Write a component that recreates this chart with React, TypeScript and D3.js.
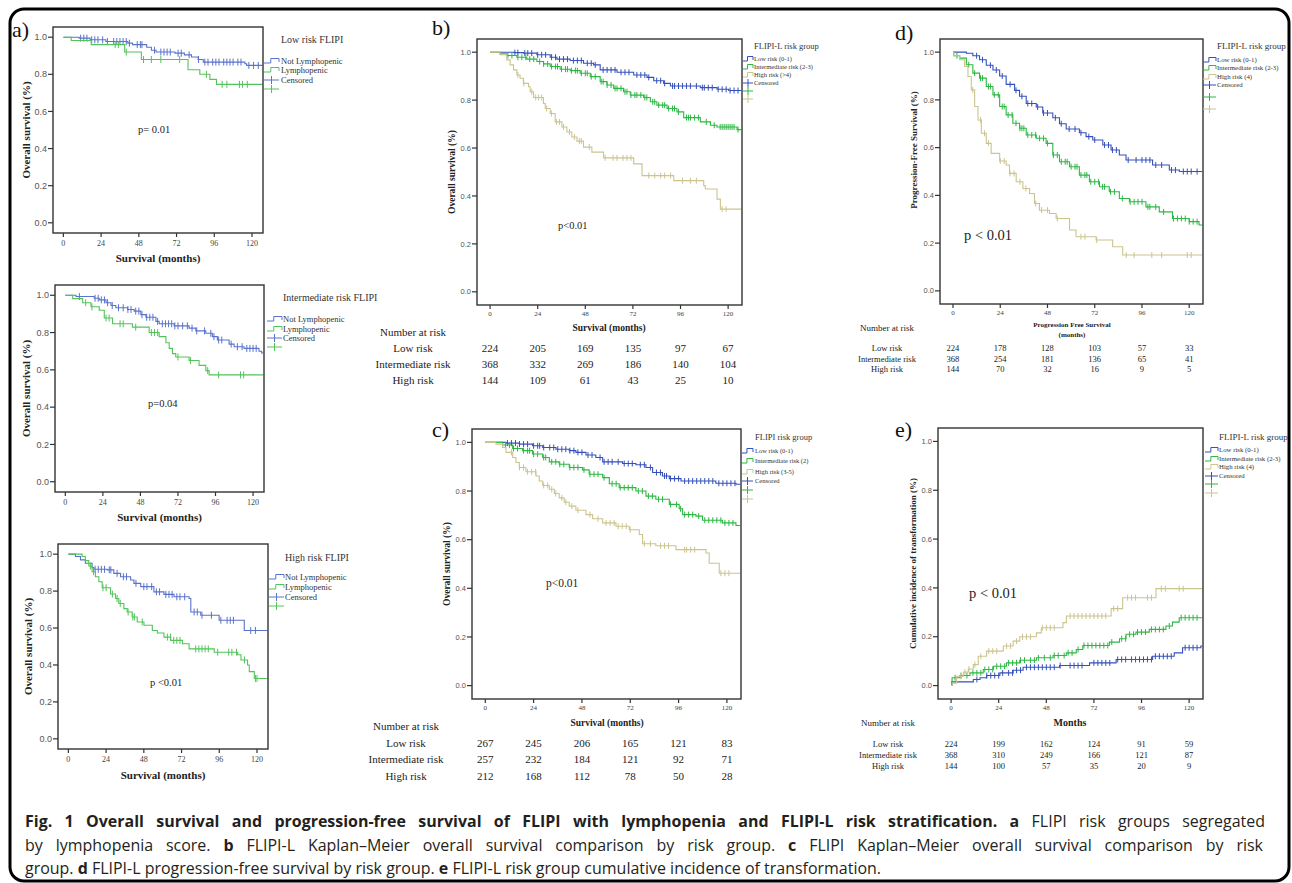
import React, { useRef, useLayoutEffect } from 'react';
import * as d3 from 'd3';

type Pt = [number, number];

const SERIF = '"Liberation Serif", "Times New Roman", serif';
const SANS = '"Liberation Sans", Arial, sans-serif';
const CAPTION_FONT = '"Open Sans", "Noto Sans", sans-serif';

const BLUE = '#3550bb';
const BLUE_A = '#5a73cc';
const GREEN = '#2cb843';
const GREEN_A = '#52c45a';
const TAN = '#ccc48f';

const months = [0, 24, 48, 72, 96, 120];
const probTicks = [0, 0.2, 0.4, 0.6, 0.8, 1.0];

// ---- a) low risk FLIPI ----
const aLowNotLymph: Pt[] = [[10, 0.995], [17, 0.986], [27, 0.977], [41, 0.968], [44, 0.96], [53, 0.946], [56, 0.93], [59, 0.92], [71, 0.914], [77, 0.905], [81.5, 0.893], [85.7, 0.88], [89, 0.866], [115.5, 0.857], [116.6, 0.848]];
const aLowNotLymphCens = [11, 13, 15, 18, 20, 22, 25, 28, 32, 34, 36, 38, 40, 42, 47, 49, 50, 58, 62, 64, 66, 68, 73, 75, 80, 86, 90, 92, 95, 97, 99, 102, 104, 106, 108, 111, 113, 118, 121, 124];
const aLowLymph: Pt[] = [[5, 0.982], [17.7, 0.96], [39, 0.92], [49.6, 0.88], [79.3, 0.825], [86.8, 0.8], [93.2, 0.773], [97.4, 0.746]];
const aLowLymphCens = [33, 35, 40, 51, 56, 62, 74, 91, 101, 104, 112, 114, 117];

// ---- a) intermediate risk FLIPI ----
const aIntNotLymph: Pt[] = [[6.8, 0.993], [18.5, 0.984], [21.7, 0.975], [26, 0.96], [29.2, 0.945], [32.3, 0.933], [39.8, 0.924], [44, 0.915], [48.3, 0.896], [51.5, 0.882], [57.9, 0.86], [60, 0.847], [69.6, 0.836], [79.1, 0.824], [83.4, 0.809], [89.8, 0.796], [94, 0.778], [97.2, 0.76], [104.7, 0.738], [107.9, 0.724], [114.2, 0.715], [123.8, 0.7], [125.5, 0.69]];
const aIntNotLymphCens = [9, 19, 21, 23, 25, 27, 30, 34, 37, 40, 42, 45, 47, 49, 52, 54, 56, 59, 62, 64, 66, 68, 70, 72, 75, 78, 81, 84, 89, 93, 95, 98, 100, 106, 110, 113, 116, 118, 120, 122];
const aIntLymph: Pt[] = [[4.7, 0.982], [11.1, 0.96], [16.4, 0.938], [21.7, 0.92], [24.9, 0.878], [30.2, 0.847], [42.9, 0.829], [53.6, 0.8], [60, 0.778], [64.3, 0.745], [66.4, 0.715], [68.5, 0.687], [70.6, 0.669], [79.1, 0.65], [85.5, 0.624], [89.8, 0.596], [91.9, 0.573]];
const aIntLymphCens = [13, 17, 26, 28, 35, 37, 45, 55, 57, 59, 72, 80, 91, 98, 112, 114];

// ---- a) high risk FLIPI ----
const aHighNotLymph: Pt[] = [[4.5, 0.987], [7.7, 0.969], [10.8, 0.951], [15.1, 0.927], [16.2, 0.918], [24.7, 0.915], [28.9, 0.896], [33.2, 0.878], [39.6, 0.86], [41.7, 0.842], [46, 0.824], [54.4, 0.796], [60.8, 0.782], [67.2, 0.769], [76.8, 0.76], [77.9, 0.687], [84.2, 0.669], [95.9, 0.642], [111.9, 0.587]];
const aHighNotLymphCens = [17, 19, 21, 23, 26, 27, 31, 35, 37, 43, 48, 50, 53, 56, 58, 62, 64, 66, 69, 71, 74, 80, 82, 85, 91, 97, 101, 103, 105, 116, 119];
const aHighLymph: Pt[] = [[8.7, 0.987], [10.8, 0.965], [13, 0.936], [15.1, 0.905], [17.2, 0.878], [19.4, 0.851], [21.5, 0.818], [26.8, 0.784], [30, 0.76], [32.1, 0.733], [35.3, 0.705], [37.4, 0.687], [40.6, 0.66], [43.8, 0.633], [48.1, 0.615], [53.4, 0.587], [56.6, 0.573], [60.8, 0.551], [65.1, 0.533], [72.6, 0.515], [76.8, 0.487], [92.8, 0.469], [107.7, 0.455], [109.8, 0.427], [114, 0.4], [115.1, 0.364], [118.3, 0.327]];
const aHighLymphCens = [14, 16, 22, 24, 28, 31, 33, 38, 41, 42, 47, 63, 65, 67, 69, 71, 81, 83, 85, 87, 89, 95, 102, 104, 107, 112, 119, 120];

// ---- b) FLIPI-L overall survival ----
const bLow: Pt[] = [[12, 0.998], [16.8, 0.996], [23.6, 0.989], [30.3, 0.979], [33.7, 0.971], [40.4, 0.965], [47.1, 0.954], [52.2, 0.947], [55.5, 0.926], [64, 0.916], [72.4, 0.905], [79.1, 0.895], [82.5, 0.881], [87.5, 0.87], [90.9, 0.859], [106, 0.852], [114.4, 0.845], [120.3, 0.84]];
const bLowCens = [12.5, 14, 17.5, 19, 21, 24, 26, 28, 31, 33, 35, 37, 39, 42, 44, 46, 49, 51, 53, 57, 59, 61, 63, 66, 68, 70, 74, 76, 78, 80, 84, 86, 88, 92, 93, 95, 97, 99, 101, 104, 107, 108, 110, 112, 115, 117, 119, 121, 123, 125];
const bInt: Pt[] = [[5, 0.993], [8.4, 0.986], [13.5, 0.979], [18.5, 0.971], [23.6, 0.961], [26.9, 0.951], [30.3, 0.94], [35.3, 0.929], [40.4, 0.923], [45.4, 0.912], [50.5, 0.898], [55.5, 0.877], [58.9, 0.863], [62.3, 0.849], [67.3, 0.835], [70.7, 0.821], [77.4, 0.811], [80.8, 0.793], [84.1, 0.779], [89.2, 0.765], [94.2, 0.751], [97.6, 0.727], [106, 0.709], [111.1, 0.695], [114.4, 0.688], [124.5, 0.677]];
const bIntCens = [9, 11, 14, 16, 18, 20, 22, 25, 27, 29, 31, 33, 34, 36, 38, 39, 41, 43, 44, 46, 48, 49, 51, 53, 56, 57, 59, 61, 63, 64, 66, 68, 69, 71, 73, 74, 76, 78, 79, 82, 83, 85, 87, 88, 90, 92, 93, 95, 99, 100, 101, 103, 105, 109, 113, 116, 117, 118, 119, 120, 121, 122, 123, 125];
const bHigh: Pt[] = [[5, 0.989], [8.4, 0.968], [10.1, 0.947], [11.8, 0.926], [13.5, 0.905], [15.1, 0.891], [16.8, 0.87], [19.4, 0.856], [20.2, 0.835], [21.9, 0.811], [26.9, 0.786], [27.8, 0.765], [30.3, 0.744], [32.8, 0.709], [36.2, 0.688], [38.7, 0.667], [41.2, 0.646], [43.8, 0.629], [47.1, 0.604], [51.3, 0.583], [57.2, 0.559], [72.4, 0.534], [76.6, 0.485], [92.6, 0.464], [107.7, 0.443], [108.5, 0.429], [114.4, 0.387], [116.1, 0.345]];
const bHighCens = [14, 17, 21, 23, 24.5, 26, 28.5, 31, 33.5, 35, 37, 40, 42.5, 45, 46, 50, 58, 62, 64, 67, 69, 71, 80, 83, 86, 88, 91, 97, 101, 104, 117, 119];

// ---- c) FLIPI overall survival ----
const cLow: Pt[] = [[10.3, 0.997], [16.9, 0.993], [23.5, 0.986], [28.5, 0.979], [35.1, 0.972], [41.7, 0.966], [45, 0.959], [50, 0.948], [54.9, 0.938], [58.3, 0.92], [68.2, 0.913], [74.8, 0.908], [79.8, 0.897], [83.1, 0.876], [88, 0.862], [91.4, 0.851], [97.2, 0.841], [114.5, 0.832], [124.5, 0.828]];
const cLowCens = [11, 13, 15, 17, 19, 21, 24, 26, 27, 29, 32, 34, 36, 38, 40, 42, 44, 46, 48, 51, 53, 57, 59, 61, 63, 66, 69, 71, 73, 77, 79, 82, 85, 87, 89, 90, 92, 94, 96, 99, 101, 103, 105, 107, 109, 111, 113, 116, 118, 120, 122, 124];
const cInt: Pt[] = [[8.6, 0.989], [13.6, 0.975], [18.5, 0.966], [23.5, 0.952], [28.5, 0.938], [31.8, 0.92], [36.7, 0.91], [41.7, 0.897], [48.3, 0.887], [51.6, 0.869], [58.3, 0.855], [61.6, 0.83], [66.5, 0.814], [74.8, 0.8], [79.8, 0.779], [84.7, 0.766], [91.4, 0.745], [96.3, 0.727], [98, 0.703], [104.6, 0.697], [107.9, 0.68], [117.8, 0.669], [124.5, 0.658]];
const cIntCens = [10, 12, 14, 16, 19, 21, 22, 24, 26, 29, 30, 33, 35, 37, 39, 42, 44, 46, 49, 52, 54, 56, 59, 63, 65, 67, 69, 71, 73, 76, 78, 81, 83, 86, 88, 92, 95, 97, 99, 101, 103, 106, 109, 111, 113, 115, 117, 119, 121, 123];
const cHigh: Pt[] = [[5.3, 0.993], [8.6, 0.979], [10.3, 0.959], [13.6, 0.938], [15.2, 0.917], [16.9, 0.897], [20.2, 0.879], [25.2, 0.862], [26.8, 0.841], [28.5, 0.823], [31.8, 0.807], [34.3, 0.79], [36.7, 0.772], [39.2, 0.754], [41.7, 0.738], [45, 0.721], [50, 0.703], [53.3, 0.686], [58.3, 0.669], [64.9, 0.655], [71.5, 0.641], [76.5, 0.621], [78.1, 0.583], [84.7, 0.575], [94.7, 0.559], [109.6, 0.545], [111.2, 0.503], [116.2, 0.462]];
const cHighCens = [13, 17, 19, 21, 23, 25, 29, 31, 33, 35, 38, 40, 43, 46, 52, 56, 60, 62, 64, 66, 68, 70, 72, 79, 82, 87, 89, 91, 99, 100, 102, 104, 117, 119, 121];

// ---- d) FLIPI-L progression-free survival ----
const dLow: Pt[] = [[6.8, 0.995], [10.1, 0.985], [13.5, 0.968], [16.9, 0.945], [20.3, 0.925], [23.7, 0.9], [27, 0.865], [31.3, 0.84], [33.8, 0.815], [37.2, 0.785], [42.3, 0.77], [45.6, 0.745], [50.7, 0.725], [54.1, 0.7], [57.5, 0.678], [64.2, 0.662], [67.6, 0.646], [71, 0.632], [76.1, 0.611], [80.3, 0.59], [84.5, 0.569], [87.9, 0.548], [101.4, 0.527], [109.9, 0.506], [115, 0.5]];
const dLowCens = [12, 15, 19, 22, 25, 29, 32, 35, 38, 40, 43, 46, 48, 52, 55, 59, 62, 65, 69, 72, 77, 79, 81, 83, 89, 93, 96, 98, 100, 103, 106, 111, 113, 117, 119, 121, 124];
const dInt: Pt[] = [[0.4, 0.985], [3.4, 0.975], [6.8, 0.947], [10.1, 0.912], [13.5, 0.891], [16.9, 0.856], [20.3, 0.821], [23.7, 0.772], [27, 0.737], [30.4, 0.702], [33.8, 0.681], [37.2, 0.653], [42.3, 0.639], [47.3, 0.618], [50.7, 0.569], [54.1, 0.541], [59.2, 0.52], [64.2, 0.485], [69.3, 0.457], [74.4, 0.436], [79.4, 0.415], [84.5, 0.387], [89.6, 0.373], [98, 0.352], [104.8, 0.331], [111.5, 0.303], [120, 0.29], [125, 0.276]];
const dIntCens = [2, 8, 11, 14, 15, 18, 19, 21, 23, 25, 26, 28, 30, 32, 34, 35, 36, 38, 40, 42, 44, 46, 48, 51, 53, 55, 57, 58, 60, 62, 63, 65, 67, 68, 70, 72, 74, 76, 77, 80, 82, 86, 90, 92, 94, 96, 99, 100, 103, 107, 112, 114, 116, 118, 120, 122, 124];
const dHigh: Pt[] = [[0.4, 0.985], [3.4, 0.968], [5.9, 0.94], [7.6, 0.898], [9.3, 0.842], [11, 0.772], [12.7, 0.716], [14.4, 0.66], [16.9, 0.618], [19.4, 0.576], [23.7, 0.544], [27, 0.527], [28.7, 0.492], [32.1, 0.457], [35.5, 0.429], [38.9, 0.408], [41.4, 0.366], [43.9, 0.338], [49, 0.324], [52.4, 0.303], [59.2, 0.255], [62.5, 0.227], [72.7, 0.213], [81.1, 0.185], [86.2, 0.15]];
const dHighCens = [10, 14, 16, 18, 24, 26, 29, 31, 34, 37, 42, 45, 48, 53, 65, 67, 73, 88, 92, 101, 106, 119, 121];

// ---- e) FLIPI-L cumulative incidence of transformation ----
const eLow: Pt[] = [[0.3, 0.015], [11.2, 0.025], [14.6, 0.032], [17.9, 0.041], [24.6, 0.052], [31.3, 0.063], [36.3, 0.075], [54.7, 0.082], [69.8, 0.093], [83.2, 0.107], [101.6, 0.12], [112.5, 0.134], [116.7, 0.155], [125.9, 0.162]];
const eLowCens = [13, 18, 20, 22, 24, 26, 29, 31, 33, 35, 38, 40, 42, 44, 46, 48, 50, 52, 55, 60, 62, 64, 66, 72, 74, 76, 78, 80, 84, 86, 88, 91, 93, 95, 97, 99, 101, 103, 105, 107, 109, 111, 118, 120, 122, 124];
const eInt: Pt[] = [[0.5, 0.032], [4.5, 0.041], [9.5, 0.052], [16.2, 0.066], [21.3, 0.079], [27.9, 0.093], [34.6, 0.104], [43, 0.114], [51.4, 0.123], [58.1, 0.134], [63.1, 0.148], [66.4, 0.164], [79.8, 0.178], [84.9, 0.192], [88.2, 0.21], [93.2, 0.219], [99.9, 0.23], [108.3, 0.244], [111.6, 0.26], [115, 0.278]];
const eIntCens = [2, 5, 8, 11, 13, 15, 17, 19, 21, 23, 25, 27, 29, 31, 33, 35, 37, 40, 42, 44, 47, 50, 52, 54, 57, 59, 61, 64, 67, 69, 71, 73, 75, 77, 79, 81, 86, 88, 90, 92, 94, 96, 98, 101, 103, 105, 107, 110, 116, 118, 120, 122, 124];
const eHigh: Pt[] = [[0.5, 0.01], [2.8, 0.038], [6.2, 0.055], [8.7, 0.068], [11.2, 0.086], [13.7, 0.12], [17.9, 0.141], [26.3, 0.162], [31.3, 0.182], [34.6, 0.2], [43, 0.216], [45.5, 0.237], [56.4, 0.258], [58.1, 0.285], [80.7, 0.315], [86.5, 0.36], [103.3, 0.397]];
const eHighCens = [5, 7, 9, 12, 15, 19, 21, 23, 28, 30, 33, 36, 38, 40, 46, 48, 50, 52, 60, 62, 64, 66, 68, 70, 72, 74, 76, 78, 82, 84, 89, 91, 93, 99, 101, 106, 108, 115, 117];

// number at risk
const riskLabels = ['Low risk', 'Intermediate risk', 'High risk'];
const bRisk = [[224, 205, 169, 135, 97, 67], [368, 332, 269, 186, 140, 104], [144, 109, 61, 43, 25, 10]];
const cRisk = [[267, 245, 206, 165, 121, 83], [257, 232, 184, 121, 92, 71], [212, 168, 112, 78, 50, 28]];
const dRisk = [[224, 178, 128, 103, 57, 33], [368, 254, 181, 136, 65, 41], [144, 70, 32, 16, 9, 5]];
const eRisk = [[224, 199, 162, 124, 91, 59], [368, 310, 249, 166, 121, 87], [144, 100, 57, 35, 20, 9]];

const lymphLegend = ['Not Lymphopenic', 'Lymphopenic', 'Censored'];

interface Series { start: number; steps: Pt[]; cens: number[]; color: string }

const X_DOMAIN = [-6.6, 127];
const Y_DOMAIN = [-0.055, 1.055];
const CURVE_END = 126.6;

// caption widths in px (first two lines are justified, last one is not)
const CAPTION_WIDTHS = [1240, 1238];
const CAPTION_LAST_W = 856;

function valueAt(s: Series, t: number) {
  let v = s.start;
  for (const [st, sv] of s.steps) {
    if (st <= t) v = sv;
    else break;
  }
  return v;
}

function Legend({ x, symW, textX, title, titleY, titleSize, items, ys, size }: any) {
  return (
    <g fontFamily={SERIF} fill="#333">
      <text x={textX} y={titleY} dy="0.35em" fontSize={titleSize}>{title}</text>
      {items.map((it: any, i: number) => {
        const yy = ys[i];
        if (it.kind === 'step') {
          const d = `M${x},${yy + 2} H${x + symW * 0.45} V${yy - 2.5} H${x + symW} V${yy + 1}`;
          return (
            <g key={i}>
              <path d={d} fill="none" stroke={it.color} strokeWidth={1} />
              <text x={textX} y={yy} dy="0.35em" fontSize={size}>{it.text}</text>
            </g>
          );
        }
        return (
          <g key={i}>
            <line x1={x} x2={x + symW} y1={yy} y2={yy} stroke={it.color} strokeWidth={1} />
            <line x1={x + symW / 2} x2={x + symW / 2} y1={yy - 4} y2={yy + 4} stroke={it.color} strokeWidth={1} />
            {it.text ? <text x={textX} y={yy} dy="0.35em" fontSize={size}>{it.text}</text> : null}
          </g>
        );
      })}
    </g>
  );
}

function Panel(p: any) {
  const { box } = p;
  const x = d3.scaleLinear().domain(X_DOMAIN).range([box.l, box.r]);
  const y = d3.scaleLinear().domain(Y_DOMAIN).range([box.b, box.t]);
  const line = d3.line<Pt>().x(d => x(d[0])).y(d => y(d[1])).curve(d3.curveStepAfter);
  const half = p.censHalf ?? 3;
  return (
    <g>
      <text x={p.tagX} y={p.tagY} fontFamily={SERIF} fontSize={22} fill="#111">{p.tag}</text>
      {probTicks.map(v => (
        <g key={v}>
          <line x1={box.l - 5} x2={box.l} y1={y(v)} y2={y(v)} stroke="#333" strokeWidth={1.2} />
          <text x={box.l - 6} y={y(v)} dy="0.35em" textAnchor="end" fontFamily={SANS} fontSize={p.yTickSize} fill="#555">{v.toFixed(1)}</text>
        </g>
      ))}
      {months.map(m => (
        <g key={m}>
          <line x1={x(m)} x2={x(m)} y1={box.b} y2={box.b + 4} stroke="#333" strokeWidth={1.2} />
          <text x={x(m)} y={box.b + p.xTickDy} textAnchor="middle" fontFamily={SERIF} fontSize={p.xTickSize} fill="#444">{m}</text>
        </g>
      ))}
      {p.series.map((s: Series, i: number) => {
        const last = s.steps.length ? s.steps[s.steps.length - 1][1] : s.start;
        const pts: Pt[] = [[0, s.start], ...s.steps, [CURVE_END, last]];
        return (
          <g key={i}>
            <path d={line(pts) || ''} fill="none" stroke={s.color} strokeWidth={1.1} />
            {s.cens.map((t, j) => {
              const cx = x(t);
              const cy = y(valueAt(s, t));
              return <line key={j} x1={cx} x2={cx} y1={cy - half} y2={cy + half} stroke={s.color} strokeWidth={1} />;
            })}
          </g>
        );
      })}
      <rect x={box.l} y={box.t} width={box.r - box.l} height={box.b - box.t} fill="none" stroke="#333" strokeWidth={1.4} />
      <text transform={`translate(${p.yTitleX},${p.yTitleY ?? (box.t + box.b) / 2}) rotate(-90)`} textAnchor="middle" fontFamily={SERIF} fontWeight="bold" fontSize={p.yTitleSize} fill="#222">{p.yTitle}</text>
      {p.xTitle.map((tx: string, i: number) => (
        <text key={i} x={p.xTitleX ?? (box.l + box.r) / 2} y={p.xTitleY + i * p.xTitleSize * 1.45} textAnchor="middle" fontFamily={SERIF} fontWeight="bold" fontSize={p.xTitleSize} fill="#222">{tx}</text>
      ))}
      <text x={p.pX} y={p.pY} fontFamily={SERIF} fontSize={p.pSize} fill="#222">{p.pText}</text>
      <Legend {...p.legend} />
      {p.risk ? (
        <g fontFamily={SERIF} fill="#222">
          <text x={p.risk.labelX} y={p.risk.headY} textAnchor="middle" fontSize={p.risk.headSize}>Number at risk</text>
          {p.risk.rows.map((vals: number[], r: number) => (
            <g key={r} fontSize={p.risk.size}>
              <text x={p.risk.labelX} y={p.risk.rowYs[r]} textAnchor="middle">{riskLabels[r]}</text>
              {vals.map((v, k) => (
                <text key={k} x={x(months[k])} y={p.risk.rowYs[r]} textAnchor="middle">{v}</text>
              ))}
            </g>
          ))}
        </g>
      ) : null}
    </g>
  );
}

function lymphItems() {
  return [
    { kind: 'step', color: BLUE_A, text: lymphLegend[0] },
    { kind: 'step', color: GREEN_A, text: lymphLegend[1] },
    { kind: 'cross', color: BLUE_A, text: lymphLegend[2] },
    { kind: 'cross', color: GREEN_A, text: '' },
  ];
}

function riskItems(names: string[]) {
  return [
    { kind: 'step', color: BLUE, text: names[0] },
    { kind: 'step', color: GREEN, text: names[1] },
    { kind: 'step', color: TAN, text: names[2] },
    { kind: 'cross', color: BLUE, text: 'Censored' },
    { kind: 'cross', color: GREEN, text: '' },
    { kind: 'cross', color: TAN, text: '' },
  ];
}

function Caption() {
  const ref = useRef<SVGGElement>(null);
  useLayoutEffect(() => {
    const g = ref.current;
    if (!g) return;
    const lines = Array.from(g.querySelectorAll('text')) as SVGTextElement[];
    const base = 15;
    g.setAttribute('font-size', String(base));
    const w3 = lines[2].getComputedTextLength();
    const fs = (base * CAPTION_LAST_W) / w3;
    g.setAttribute('font-size', fs.toFixed(2));
    [0, 1].forEach(i => {
      const t = lines[i];
      t.style.wordSpacing = '0px';
      const w = t.getComputedTextLength();
      const spaces = ((t.textContent || '').match(/ /g) || []).length;
      t.style.wordSpacing = `${((CAPTION_WIDTHS[i] - w) / spaces).toFixed(2)}px`;
    });
  }, []);
  return (
    <g ref={ref} fontFamily={CAPTION_FONT} fontSize={15} fill="#231f20">
      <text x={25} y={827}>
        <tspan fontWeight="bold">Fig. 1 Overall survival and progression-free survival of FLIPI with lymphopenia and FLIPI-L risk stratification. a</tspan>
        <tspan> FLIPI risk groups segregated</tspan>
      </text>
      <text x={25} y={851}>
        <tspan>by lymphopenia score. </tspan><tspan fontWeight="bold">b</tspan>
        <tspan> FLIPI-L Kaplan–Meier overall survival comparison by risk group. </tspan><tspan fontWeight="bold">c</tspan>
        <tspan> FLIPI Kaplan–Meier overall survival comparison by risk</tspan>
      </text>
      <text x={25} y={874}>
        <tspan>group. </tspan><tspan fontWeight="bold">d</tspan>
        <tspan> FLIPI-L progression-free survival by risk group. </tspan><tspan fontWeight="bold">e</tspan>
        <tspan> FLIPI-L risk group cumulative incidence of transformation.</tspan>
      </text>
    </g>
  );
}

const aCommon = {
  yTickSize: 9, xTickSize: 8, xTickDy: 13, yTitleSize: 11, xTitleSize: 11, pSize: 10.5, censHalf: 3.5,
  yTitle: 'Overall survival (%)', xTitle: ['Survival (months)'],
};

export default function App() {
  return (
    <svg width={1292} height={883} style={{ position: 'absolute', left: 0, top: 0, background: '#fff' }}>
      <rect x={10} y={9} width={1279} height={872} rx={14} fill="none" stroke="#000" strokeWidth={3} />

      <Panel {...aCommon} tag="a)" tagX={12} tagY={37}
        box={{ l: 53, t: 27, r: 263, b: 233 }} yTitleX={30} xTitleY={262}
        pText="p= 0.01" pX={138} pY={133}
        series={[
          { start: 1, steps: aLowNotLymph, cens: aLowNotLymphCens, color: BLUE_A },
          { start: 1, steps: aLowLymph, cens: aLowLymphCens, color: GREEN_A },
        ]}
        legend={{ x: 264, symW: 15, textX: 281, title: 'Low risk FLIPI', titleY: 39, titleSize: 10, items: lymphItems(), ys: [61, 70, 80, 89], size: 8.5 }}
      />
      <Panel {...aCommon} tag="" tagX={0} tagY={0}
        box={{ l: 55, t: 285, r: 264, b: 492 }} yTitleX={30} xTitleY={521}
        pText="p=0.04" pX={148} pY={407}
        series={[
          { start: 1, steps: aIntNotLymph, cens: aIntNotLymphCens, color: BLUE_A },
          { start: 1, steps: aIntLymph, cens: aIntLymphCens, color: GREEN_A },
        ]}
        legend={{ x: 267, symW: 15, textX: 283, title: 'Intermediate risk FLIPI', titleY: 297, titleSize: 10, items: lymphItems(), ys: [319, 329, 338, 347], size: 8.5 }}
      />
      <Panel {...aCommon} tag="" tagX={0} tagY={0}
        box={{ l: 58, t: 544, r: 268, b: 749 }} yTitleX={32} xTitleY={779}
        pText="p <0.01" pX={150} pY={686}
        series={[
          { start: 1, steps: aHighNotLymph, cens: aHighNotLymphCens, color: BLUE_A },
          { start: 1, steps: aHighLymph, cens: aHighLymphCens, color: GREEN_A },
        ]}
        legend={{ x: 269, symW: 15, textX: 285, title: 'High risk FLIPI', titleY: 557, titleSize: 10, items: lymphItems(), ys: [577, 587, 597, 606], size: 8.5 }}
      />

      <Panel tag="b)" tagX={432} tagY={35}
        box={{ l: 477, t: 39, r: 742, b: 305 }}
        yTickSize={7.5} xTickSize={7} xTickDy={11} yTitleSize={9.5} xTitleSize={9.5} pSize={10.5}
        yTitle="Overall survival (%)" yTitleX={455} xTitle={['Survival (months)']} xTitleX={609} xTitleY={331}
        pText="p<0.01" pX={558} pY={229}
        series={[
          { start: 1, steps: bLow, cens: bLowCens, color: BLUE },
          { start: 1, steps: bInt, cens: bIntCens, color: GREEN },
          { start: 1, steps: bHigh, cens: bHighCens, color: TAN },
        ]}
        legend={{ x: 743, symW: 10, textX: 754, title: 'FLIPI-L risk group', titleY: 46, titleSize: 8.5, items: riskItems(['Low risk (0-1)', 'Intermediate risk (2-3)', 'High risk (>4)']), ys: [59, 67, 75, 83, 91, 99], size: 6.5 }}
        risk={{ labelX: 413, headY: 336, headSize: 11, rowYs: [352, 368, 384], size: 11, rows: bRisk }}
      />
      <Panel tag="c)" tagX={432} tagY={437}
        box={{ l: 472, t: 429, r: 741, b: 699 }}
        yTickSize={7.5} xTickSize={7} xTickDy={11} yTitleSize={9.5} xTitleSize={9.5} pSize={11.5}
        yTitle="Overall survival (%)" yTitleX={450} xTitle={['Survival (months)']} xTitleX={607} xTitleY={726}
        pText="p<0.01" pX={546} pY={587}
        series={[
          { start: 1, steps: cLow, cens: cLowCens, color: BLUE },
          { start: 1, steps: cInt, cens: cIntCens, color: GREEN },
          { start: 1, steps: cHigh, cens: cHighCens, color: TAN },
        ]}
        legend={{ x: 742, symW: 11, textX: 755, title: 'FLIPI risk group', titleY: 437, titleSize: 8.5, items: riskItems(['Low risk (0-1)', 'Intermediate risk (2)', 'High risk (3-5)']), ys: [451, 461, 472, 481, 490, 499], size: 6.5 }}
        risk={{ labelX: 406, headY: 730, headSize: 11, rowYs: [747, 763, 780], size: 11, rows: cRisk }}
      />

      <Panel tag="d)" tagX={895} tagY={40}
        box={{ l: 940, t: 39, r: 1203, b: 304 }}
        yTickSize={7.5} xTickSize={7} xTickDy={11} yTitleSize={9} xTitleSize={7} pSize={14.5}
        yTitle="Progression-Free Survival (%)" yTitleX={917} yTitleY={150} xTitle={['Progression Free Survival', '(months)']} xTitleX={1072} xTitleY={327}
        pText="p < 0.01" pX={964} pY={240}
        series={[
          { start: 1, steps: dLow, cens: dLowCens, color: BLUE },
          { start: 1, steps: dInt, cens: dIntCens, color: GREEN },
          { start: 1, steps: dHigh, cens: dHighCens, color: TAN },
        ]}
        legend={{ x: 1203, symW: 13, textX: 1217, title: 'FLIPI-L risk group', titleY: 46, titleSize: 9, items: riskItems(['Low risk (0-1)', 'Intermediate risk (2-3)', 'High risk (4)']), ys: [60, 68, 77, 85, 97, 109], size: 6.8 }}
        risk={{ labelX: 887, headY: 331, headSize: 9, rowYs: [351, 362, 372], size: 8.5, rows: dRisk }}
      />
      <Panel tag="e)" tagX={895} tagY={437}
        box={{ l: 938, t: 428, r: 1203, b: 699 }}
        yTickSize={7.5} xTickSize={7} xTickDy={11} yTitleSize={9} xTitleSize={10} pSize={14.5}
        yTitle="Cumulative incidence of transformation (%)" yTitleX={916} xTitle={['Months']} xTitleX={1070} xTitleY={726}
        pText="p < 0.01" pX={969} pY={598}
        series={[
          { start: 0, steps: eLow, cens: eLowCens, color: BLUE },
          { start: 0, steps: eInt, cens: eIntCens, color: GREEN },
          { start: 0, steps: eHigh, cens: eHighCens, color: TAN },
        ]}
        legend={{ x: 1205, symW: 13, textX: 1219, title: 'FLIPI-L risk group', titleY: 437, titleSize: 9, items: riskItems(['Low risk (0-1)', 'Intermediate risk (2-3)', 'High risk (4)']), ys: [450, 459, 467, 476, 484, 493], size: 6.8 }}
        risk={{ labelX: 888, headY: 726, headSize: 9, rowYs: [747, 758, 769], size: 8.5, rows: eRisk }}
      />

      <Caption />
    </svg>
  );
}
